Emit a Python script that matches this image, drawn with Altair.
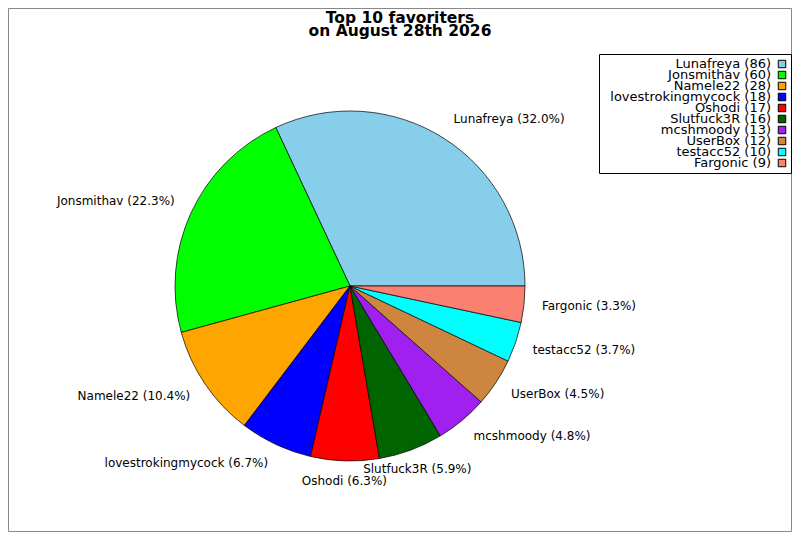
import math
import altair as alt
import pandas as pd

names = ["Lunafreya", "Jonsmithav", "Namele22", "lovestrokingmycock", "Oshodi",
         "Slutfuck3R", "mcshmoody", "UserBox", "testacc52", "Fargonic"]
counts = [86, 60, 28, 18, 17, 16, 13, 12, 10, 9]
colors = ["#87CEEB", "#00FF00", "#FFA500", "#0000FF", "#FF0000",
          "#006400", "#A020F0", "#CD853F", "#00FFFF", "#FA8072"]
title_lines = ["Top 10 favoriters", "on August 28th 2026"]

df = pd.DataFrame({"name": names, "value": counts, "idx": list(range(len(names)))})
total = sum(counts)

FONT = "DejaVu Sans"
W, H = 784, 524
CX, CY, R, LR = 342, 278, 175, 193

theta_scale = alt.Scale(domain=[0, total], range=[math.pi / 2, 5 * math.pi / 2])
color_scale = alt.Scale(domain=names, range=colors)
leg_y = alt.Y("name:N", sort=names, axis=None,
              scale=alt.Scale(type="point", range=[56, 155], padding=0))

base = alt.Chart(df).transform_joinaggregate(
    total="sum(value)"
).transform_window(
    cum="sum(value)", sort=[alt.SortField("idx", order="descending")]
).transform_calculate(
    start="datum.cum - datum.value",
    mid="datum.cum - datum.value / 2",
    phi="PI / 2 + 2 * PI * (datum.cum - datum.value / 2) / datum.total",
    sx="sin(datum.phi)",
    sy="-cos(datum.phi)",
    label="datum.name + ' (' + format(100 * datum.value / datum.total, '.1f') + '%)'",
)

one = pd.DataFrame({"a": [0]})

frame = alt.Chart(one).mark_rect(
    fill="white", stroke="#888888", strokeWidth=1
).encode(x=alt.value(0.5), x2=alt.value(W - 0.5), y=alt.value(0.5), y2=alt.value(H - 0.5))

title = alt.Chart(one).mark_text(
    text=title_lines, font=FONT, fontSize=15.5, fontWeight="bold", color="black",
    align="center", baseline="alphabetic", lineHeight=13.5,
).encode(x=alt.value(W / 2), y=alt.value(14.5))

box = alt.Chart(one).mark_rect(
    fill="white", stroke="black", strokeWidth=1
).encode(x=alt.value(591.5), x2=alt.value(783.5), y=alt.value(46.5), y2=alt.value(165.5))

arcs = base.mark_arc(radius=R, stroke="black", strokeWidth=0.7).encode(
    theta=alt.Theta("start:Q", scale=theta_scale, stack=None),
    theta2="cum:Q",
    color=alt.Color("name:N", scale=color_scale, legend=None),
    x=alt.value(CX), y=alt.value(CY),
)

labels = base.mark_text(
    radius=LR, font=FONT, fontSize=12, color="black",
    align=alt.expr("abs(datum.sx) < 0.38 ? 'center' : (datum.sx > 0 ? 'left' : 'right')"),
    baseline=alt.expr("datum.sy < -0.3 ? 'alphabetic' : 'middle'"),
    dy=alt.expr("datum.sy > 0.3 ? 2 : 0"),
).encode(
    theta=alt.Theta("mid:Q", scale=theta_scale, stack=None),
    text="label:N",
    x=alt.value(CX), y=alt.value(CY),
)

leg_text = alt.Chart(df).transform_calculate(
    leg="datum.name + ' (' + datum.value + ')'"
).mark_text(align="right", baseline="middle", font=FONT, fontSize=13, color="black").encode(
    y=leg_y, x=alt.value(763), text="leg:N",
)

leg_sym = alt.Chart(df).mark_square(size=56, stroke="black", strokeWidth=1, opacity=1, filled=True).encode(
    y=leg_y, x=alt.value(774),
    color=alt.Color("name:N", scale=color_scale, legend=None),
)

chart = alt.layer(frame, title, box, arcs, labels, leg_text, leg_sym).properties(
    width=W, height=H, autosize="none",
    padding={"left": 0, "top": 0, "right": 0, "bottom": 0},
    background="white",
).configure_view(stroke=None)

chart.save("out.html", embed_options={"renderer": "svg", "actions": False})
